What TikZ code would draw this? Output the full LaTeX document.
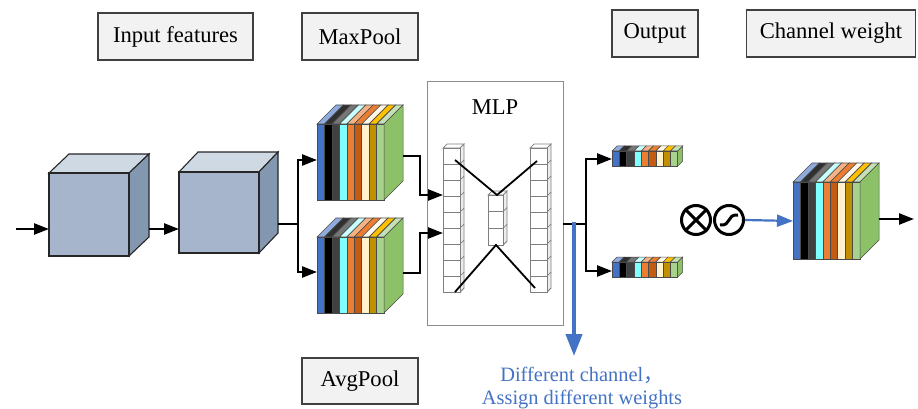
\documentclass[tikz,border=0pt]{standalone}
\usepackage{fontspec}
\setmainfont{Liberation Serif}
\newfontfamily\cjkfont{Noto Sans CJK SC}
\usetikzlibrary{arrows.meta,calc}

% cube colours
\definecolor{cubefront}{HTML}{A6B5CB}
\definecolor{cubetop}{HTML}{CFD9E4}
\definecolor{cubeside}{HTML}{8497B0}
% slab colours: front / top
\definecolor{sA}{HTML}{4472C4}\definecolor{sAt}{HTML}{8FAADC}
\definecolor{sB}{HTML}{000000}\definecolor{sBt}{HTML}{303030}
\definecolor{sC}{HTML}{404040}\definecolor{sCt}{HTML}{767676}
\definecolor{sD}{HTML}{7FFFFF}\definecolor{sDt}{HTML}{C8FFFF}
\definecolor{sE}{HTML}{ED7D31}\definecolor{sEt}{HTML}{F4B183}
\definecolor{sF}{HTML}{C55A11}\definecolor{sFt}{HTML}{ED7D31}
\definecolor{sG}{HTML}{FFF2CC}\definecolor{sGt}{HTML}{FFF8E8}
\definecolor{sH}{HTML}{BF9000}\definecolor{sHt}{HTML}{FFC000}
\definecolor{sI}{HTML}{A9D18E}\definecolor{sIt}{HTML}{C5E0B4}
\definecolor{sJ}{HTML}{8CC168}
\definecolor{slabedge}{HTML}{4A4A4A}
\definecolor{lbl}{HTML}{F2F2F2}
\definecolor{lbledge}{HTML}{404040}
\definecolor{mlpedge}{HTML}{8C8C8C}
\definecolor{celledge}{HTML}{7F7F7F}
\definecolor{cellside}{HTML}{EDEDED}
\definecolor{accent}{HTML}{4472C4}

% stack of nine coloured slabs: (#1,#2) front top-left, #3 slab width, #4 height, #5 depth, #6 line width
\newcommand{\slabstack}[6]{%
  \foreach \fc/\tc [count=\i from 0] in {sA/sAt,sB/sBt,sC/sCt,sD/sDt,sE/sEt,sF/sFt,sG/sGt,sH/sHt,sI/sIt}{
    \pgfmathsetmacro{\xa}{#1+\i*#3}
    \filldraw[fill=\tc,draw=slabedge,line width=#6] (\xa,#2) -- ++(#5,-#5) -- ++(#3,0) -- ++(-#5,#5) -- cycle;
    \filldraw[fill=\fc,draw=slabedge,line width=#6] (\xa,#2) rectangle ++(#3,#4);
  }
  \pgfmathsetmacro{\xr}{#1+9*#3}
  \filldraw[fill=sJ,draw=slabedge,line width=#6] (\xr,#2) -- ++(#5,-#5) -- ++(0,#4) -- ++(-#5,#5) -- cycle;
}

% feature cube: (#1,#2) front top-left, #3 width, #4 height, #5 depth dx, #6 depth dy
\newcommand{\featcube}[6]{%
  \filldraw[fill=cubetop,draw=black!85,line width=1.1pt] (#1,#2) -- ++(#5,-#6) -- ++(#3,0) -- ++(-#5,#6) -- cycle;
  \filldraw[fill=cubeside,draw=black!85,line width=1.1pt] (#1+#3,#2) -- ++(#5,-#6) -- ++(0,#4) -- ++(-#5,#6) -- cycle;
  \filldraw[fill=cubefront,draw=black!85,line width=1.1pt] (#1,#2) rectangle ++(#3,#4);
}

% column of neurons: (#1,#2) front top-left, #3 width, #4 cells, #5 cell height
\newcommand{\neuroncol}[5]{%
  \filldraw[fill=white,draw=celledge,line width=0.7pt] (#1,#2) -- ++(4,-4) -- ++(#3,0) -- ++(-4,4) -- cycle;
  \filldraw[fill=cellside,draw=celledge,line width=0.7pt] (#1+#3,#2) -- ++(4,-4) -- ++(0,#4*#5) -- ++(-4,4) -- cycle;
  \foreach \j in {1,...,#4}{
    \filldraw[fill=white,draw=celledge,line width=0.7pt] (#1,{#2+(\j-1)*#5}) rectangle ++(#3,#5);
    \draw[celledge,line width=0.7pt] (#1+#3,{#2+\j*#5}) -- ++(4,-4);
  }
}

\begin{document}
\begin{tikzpicture}[x=1pt,y=-1pt,
  every node/.style={font=\fontsize{22.6}{27}\selectfont},
  tag/.style={draw=lbledge,fill=lbl,line width=1.2pt,minimum height=47pt,inner sep=0pt},
  conn/.style={line width=2.4pt,black},
  arr/.style={conn,-{Triangle[length=15pt,width=11pt]}},
  thin/.style={line width=1.8pt,black},
  op/.style={circle,draw,line width=3pt,minimum size=29pt,inner sep=0pt}]
\useasboundingbox (0,0) rectangle (918,409);

% labels
\node[tag,minimum width=155pt] (lin) at (175.5,36.5) {Input features};
\node[tag,minimum width=116pt] (lmax) at (360,36.5) {MaxPool};
\node[tag,minimum width=86pt] (lout) at (655,33.5) {Output};
\node[tag,minimum width=169pt] (lcw) at (831,33.5) {Channel weight};
\node[tag,minimum width=116pt,minimum height=46pt] (lavg) at (360,381) {AvgPool};

% input feature cubes
\featcube{49}{173}{80}{83}{20}{19}
\featcube{179}{172}{80}{81}{19}{20}
\coordinate (src) at (16,229);
\coordinate (cubeA-w) at (49,229);
\coordinate (cubeA-e) at (149,229);
\coordinate (cubeB-w) at (179,229);
\coordinate (cubeB-e) at (278,224);
\coordinate (split) at (298,224);

% pooled stacks
\slabstack{317}{124}{7.45}{76}{19}{0.6pt}
\slabstack{317}{237}{7.45}{76}{19}{0.6pt}
\coordinate (max-w) at (317,160);
\coordinate (max-e) at (403,156);
\coordinate (avg-w) at (317,272);
\coordinate (avg-e) at (403,273);

% MLP
\node[draw=mlpedge,line width=1pt,minimum width=136pt,minimum height=243pt,inner sep=0pt] (mlp) at (495,203.5) {};
\node (mlptitle) at (495,107) {MLP};
\neuroncol{443}{148}{17}{9}{16}
\neuroncol{530}{148}{17}{9}{16}
\neuroncol{488}{195}{15}{3}{16.67}
\coordinate (mlp-inA) at (443,195);
\coordinate (mlp-inB) at (443,233);
\coordinate (lt) at (455,160);
\coordinate (lb) at (455,292);
\coordinate (rt) at (537,161);
\coordinate (rb) at (535,288);
\coordinate (mt) at (497,195);
\coordinate (mb) at (496,245);
\draw[thin] (lt) -- (mt) -- (rt);
\draw[thin] (lb) -- (mb) -- (rb);
\coordinate (mlp-o) at (563,224);
\coordinate (split2) at (586,224);

% output vectors
\slabstack{612}{151}{7.3}{15}{5}{0.5pt}
\slabstack{612}{262}{7.3}{15}{5}{0.5pt}
\coordinate (outA-w) at (612,159);
\coordinate (outB-w) at (612,271);

% channel weight stack
\slabstack{793}{182}{7.45}{77}{19}{0.6pt}
\coordinate (cw-w) at (793,221);
\coordinate (cw-e) at (879,219);
\coordinate (sink) at (914,219);

% connectors
\draw[arr] (src) -- (cubeA-w);
\draw[arr] (cubeA-e) -- (cubeB-w);
\draw[conn] (cubeB-e) -- (split);
\draw[arr] (split) |- (max-w);
\draw[arr] (split) |- (avg-w);
\draw[arr] (max-e) -- ++(17,0) |- (mlp-inA);
\draw[arr] (avg-e) -- ++(17,0) |- (mlp-inB);
\draw[conn] (mlp-o) -- (split2);
\draw[arr] (split2) |- (outA-w);
\draw[arr] (split2) |- (outB-w);

% channel attention operators
\node[op] (mult) at (696,220) {};
\draw[line width=3pt] (mult.north west) -- (mult.south east);
\draw[line width=3pt] (mult.north east) -- (mult.south west);
\node[op] (sig) at (729,220) {};
\draw[line width=3pt] ($(sig)+(-9,5)$) .. controls ($(sig)+(3,6)$) and ($(sig)+(-3,-6)$) .. ($(sig)+(9,-5)$);
\draw[accent,line width=2.2pt,-{Triangle[length=16pt,width=12pt]}] (sig.east) -- (cw-w);
\draw[arr] (cw-e) -- (sink);

% note on channel weighting
\coordinate (drop) at (574,222);
\coordinate (dropend) at (574,356);
\draw[accent,line width=4pt,-{Triangle[length=22pt,width=16pt]}] (drop) -- (dropend);
\node[accent,anchor=base,font=\fontsize{20.4}{23}\selectfont] (noteA) at (582,381) {Different channel{\cjkfont ，}};
\node[accent,anchor=base,font=\fontsize{20.4}{23}\selectfont] (noteB) at (582,404) {Assign different weights};
\end{tikzpicture}
\end{document}
